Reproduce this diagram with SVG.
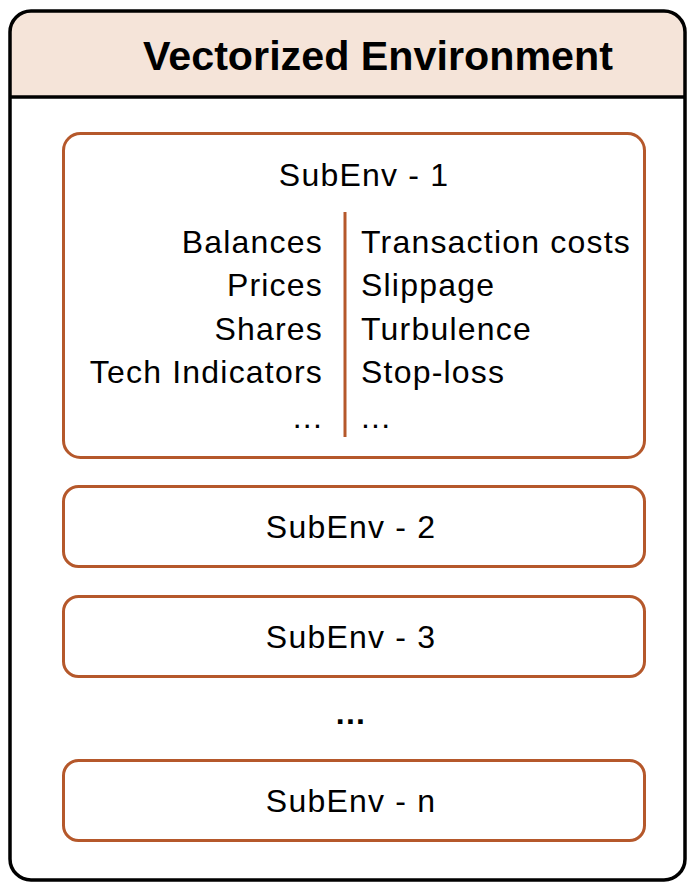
<svg xmlns="http://www.w3.org/2000/svg" width="696" height="894" viewBox="0 0 696 894">
<style>
.sub{fill:#ffffff;stroke:#B5582B;stroke-width:3}
.t{font-family:"Liberation Sans",Arial,sans-serif;font-size:32px;letter-spacing:1.2px;fill:#000}
.l{text-anchor:end}
.c{text-anchor:middle}
.title{font-family:"Liberation Sans",Arial,sans-serif;font-size:40px;font-weight:bold;fill:#000}
</style>
<rect width="696" height="894" fill="#ffffff"/>
<g id="vectorized-environment">
<path d="M10,97 L10,32 Q10,11 31,11 L664,11 Q685,11 685,32 L685,97 Z" fill="#F5E4D9"/>
<rect x="10" y="11" width="675" height="869" rx="21" fill="none" stroke="#000" stroke-width="3.5"/>
<line x1="10" y1="97" x2="685" y2="97" stroke="#000" stroke-width="3.5"/>
<text class="title" x="378" y="70" text-anchor="middle" textLength="470" lengthAdjust="spacingAndGlyphs">Vectorized Environment</text>
</g>
<g id="subenv-1">
<rect class="sub" x="63.5" y="133.5" width="581" height="324" rx="17"/>
<text class="t c" x="364" y="186">SubEnv - 1</text>
<g class="t l">
<text x="323" y="253">Balances</text>
<text x="323" y="296">Prices</text>
<text x="323" y="340">Shares</text>
<text x="323" y="383">Tech Indicators</text>
<text x="323" y="428">...</text>
</g>
<g class="t">
<text x="361" y="253">Transaction costs</text>
<text x="361" y="296">Slippage</text>
<text x="361" y="340">Turbulence</text>
<text x="361" y="383">Stop-loss</text>
<text x="361" y="428">...</text>
</g>
<line x1="345" y1="212" x2="345" y2="437" stroke="#B5582B" stroke-width="3"/>
</g>
<g id="subenv-2">
<rect class="sub" x="63.5" y="486.5" width="581" height="80" rx="15"/>
<text class="t c" x="351" y="538">SubEnv - 2</text>
</g>
<g id="subenv-3">
<rect class="sub" x="63.5" y="596.5" width="581" height="80" rx="15"/>
<text class="t c" x="351" y="648">SubEnv - 3</text>
</g>
<g id="ellipsis">
<text class="t c" x="351" y="724" font-weight="bold">...</text>
</g>
<g id="subenv-n">
<rect class="sub" x="63.5" y="760.5" width="581" height="80" rx="15"/>
<text class="t c" x="351" y="812">SubEnv - n</text>
</g>
<g id="connectors"/>
</svg>
